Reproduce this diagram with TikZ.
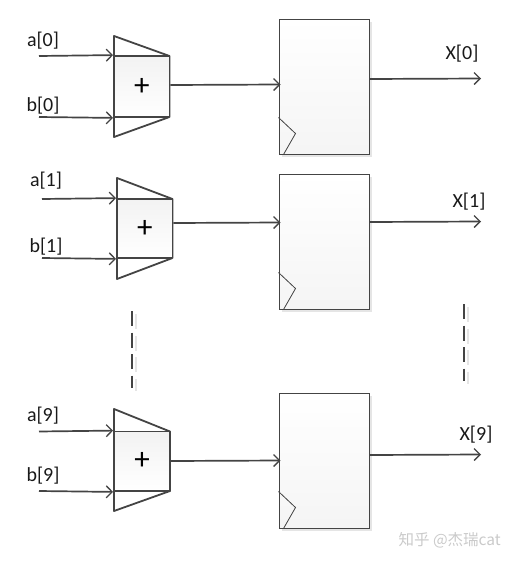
\documentclass[tikz,border=0pt]{standalone}
\usepackage{fontspec}
\setmainfont{Carlito}
\newfontfamily\cjkwm{Noto Sans CJK SC}
\usetikzlibrary{arrows.meta,shadows}
\definecolor{edgegray}{HTML}{444444}
\definecolor{wmgray}{HTML}{CACACA}
\tikzset{
  x=1pt,y=-1pt,
  softshadow/.style={drop shadow={shadow xshift=2.5pt,shadow yshift=-2.5pt,fill=black,opacity=.10}},
  wire/.style={draw=edgegray,line width=1.7pt,-{Straight Barb[length=6pt,width=12pt,line width=1.3pt]}},
  outline/.style={draw=edgegray,line width=1.8pt,line join=round},
  addbox/.style={outline,top color=black!5,bottom color=white,minimum width=#1,inner sep=0pt,font=\fontsize{31}{31}\selectfont},
  ffbox/.style={draw=edgegray,line width=1pt,top color=white,bottom color=black!4,minimum width=90pt,inner sep=0pt,softshadow},
  clk/.style={draw=edgegray,line width=.8pt},
  lab/.style={inner sep=0pt,font=\fontsize{20}{21}\selectfont,text=black!90},
  gap/.style={draw=edgegray,line width=2pt,dash pattern=on 15pt off 6.5pt},
  gapshade/.style={draw=black!10,line width=2pt,dash pattern=on 15pt off 6.5pt},
}
\begin{document}
\begin{tikzpicture}
\useasboundingbox (0,0) rectangle (515,562);
\foreach \n/\sx/\bl/\br/\ya/\yb/\tp/\bt/\ysum/\fft/\ffb/\yq/\la/\lb/\lx/\ylx/\lab/\lbb/\lxt in {
 0/39/114/169.5/56/117/36/137/85/19/154/79/41/106/462/54/a[0]/b[0]/X[0],
 1/42/117/172.5/199/258/178/279/223/174/309/222/181/247/469/202/a[1]/b[1]/X[1],
 9/39/114/170/431.5/491/409/511/461/393/528/455/416/476/476/435/a[9]/b[9]/X[9]}{
  % adder body
  \draw[outline,fill=white] (\bl,\tp) coordinate (t\n) -- (\br,\ya) -- (\br,\yb) -- (\bl,\bt) coordinate (u\n) -- cycle;
  \node[addbox=\br-\bl,minimum height=\yb-\ya] (add\n) at ({(\bl+\br)/2},{(\ya+\yb)/2}) {+};
  % register
  \node[ffbox,minimum height=\ffb-\fft] (ff\n) at (324,{(\fft+\ffb)/2}) {};
  \draw[clk] (ff\n.south west) ++(0,-37) -- ++(17,16) -- ++(-12,21);
  % labels
  \node[lab] (la\n) at ({\sx+4},\la) {\lab};
  \node[lab] (lb\n) at ({\sx+4},\lb) {\lbb};
  \node[lab] (lq\n) at (\lx,\ylx) {\lxt};
  % free ends
  \coordinate (ia\n) at (\sx,\ya);
  \coordinate (ib\n) at (\sx,\yb);
  \coordinate (qe\n) at (481,{\yq-0.5});
  \coordinate (qs\n) at (ff\n.east |- 0,\yq);
  \coordinate (ds\n) at (add\n.east |- 0,\ysum);
  \coordinate (de\n) at ([xshift=2pt]ff\n.west |- 0,{\ysum-0.5});
  % connectors
  \draw[wire] (ia\n) -- (add\n.north west);
  \draw[wire] (ib\n) -- (add\n.south west);
  \draw[wire] (ds\n) -- (de\n);
  \draw[wire] (qs\n) -- (qe\n);
}
\coordinate (g1a) at (132,311); \coordinate (g1b) at (132,388);
\coordinate (g2a) at (464,304); \coordinate (g2b) at (464,381);
\coordinate (h1a) at (135.5,314); \coordinate (h1b) at (135.5,391);
\coordinate (h2a) at (468,307); \coordinate (h2b) at (468,384);
\draw[gapshade] (h1a) -- (h1b);
\draw[gapshade] (h2a) -- (h2b);
\draw[gap] (g1a) -- (g1b);
\draw[gap] (g2a) -- (g2b);
\node[inner sep=0pt,text=wmgray,font=\cjkwm\fontsize{15.5}{15.5}\selectfont,anchor=east] (wm) at (501,540) {知乎 @杰瑞cat};
\end{tikzpicture}
\end{document}
